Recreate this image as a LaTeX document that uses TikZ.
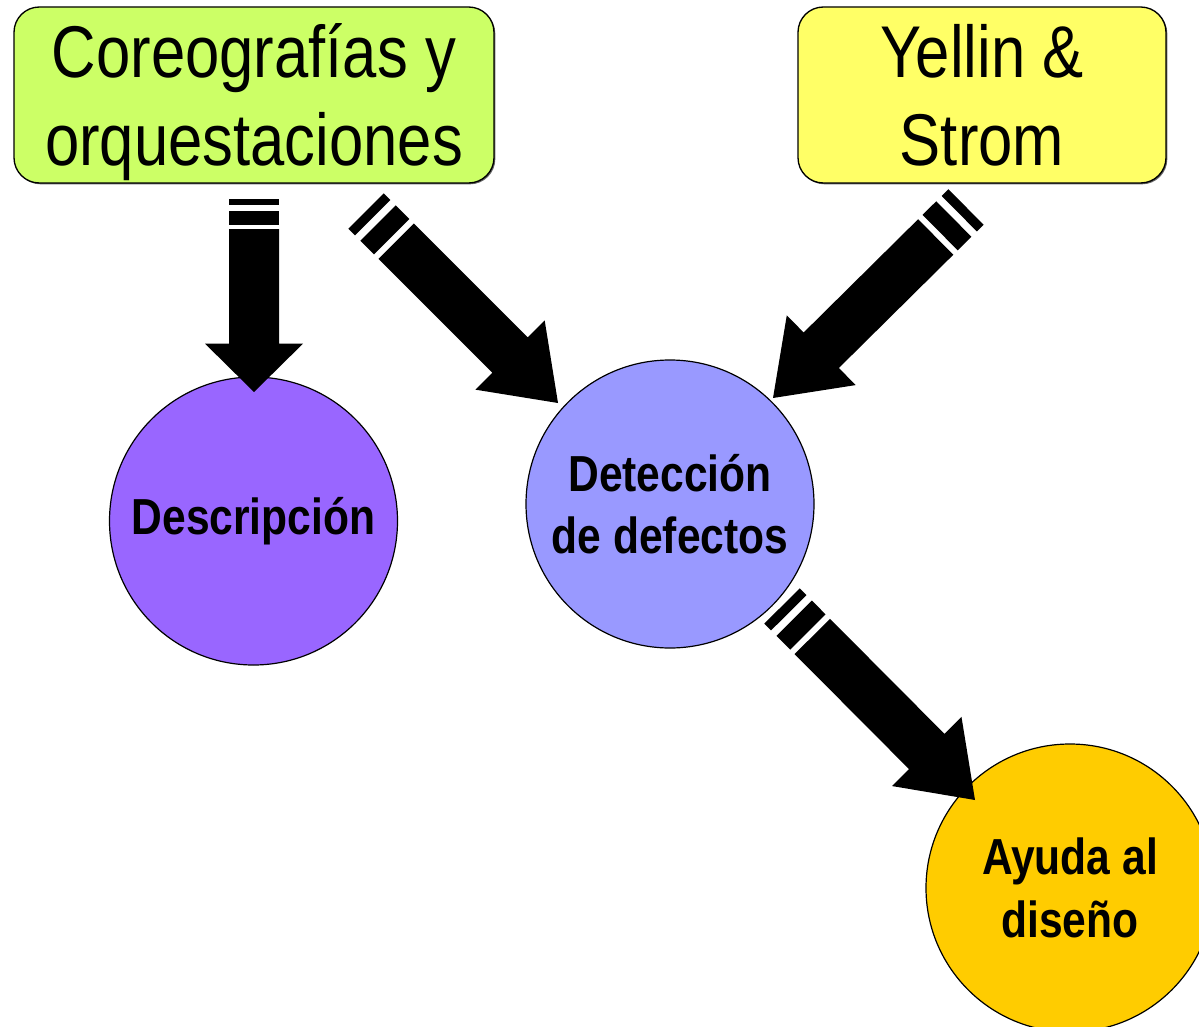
\documentclass[tikz,border=0pt]{standalone}
\usepackage{fontspec}
\setmainfont{Liberation Sans}[FakeStretch=0.84]
\usetikzlibrary{calc,shadows}

\definecolor{boxgreen}{HTML}{CCFF66}
\definecolor{boxyellow}{HTML}{FFFF66}
\definecolor{descviolet}{HTML}{9966FF}
\definecolor{detecblue}{HTML}{9999FF}
\definecolor{ayudaorange}{HTML}{FFCC00}

\tikzset{
  topbox/.style={draw=black,line width=1pt,rounded corners=19pt,minimum width=#1,minimum height=132pt,
    align=center,inner sep=0pt,font=\fontsize{55}{66}\selectfont,text height=106.5pt,text depth=0pt,
    drop shadow={shadow xshift=1pt,shadow yshift=-1pt,fill=black,opacity=0.6}},
  topic/.style={circle,draw=black,line width=0.9pt,minimum size=216pt,inner sep=0pt,
    align=center,font=\bfseries\fontsize{38}{47}\selectfont},
  pics/striparrow/.style={code={
    \fill (0,-18.75pt) rectangle (0.035*#1,18.75pt);
    \fill (0.063*#1,-18.75pt) rectangle (0.134*#1,18.75pt);
    \fill (0.157*#1,-18.75pt) -- (0.75*#1,-18.75pt) -- (0.75*#1,-36.75pt) -- (#1,0pt)
      -- (0.75*#1,36.75pt) -- (0.75*#1,18.75pt) -- (0.157*#1,18.75pt) -- cycle;
  }}
}

% striped block arrow from #1 to #2
\newcommand{\striparrow}[2]{%
  \path let \p1=($(#2)-(#1)$), \n1={atan2(\y1,\x1)}, \n2={veclen(\x1,\y1)} in
    \pgfextra{\xdef\arrang{\n1}\xdef\arrlen{\n2}};
  \path (#1) pic[rotate={-(\arrang)}] {striparrow=\arrlen};
}

\begin{document}
\begin{tikzpicture}[x=0.75pt,y=0.75pt,yscale=-1]
\useasboundingbox (0,0) rectangle (1199,1027);

%Shape: Rounded Rect
\node[topbox=360pt,fill=boxgreen] (coreo) at (254,95) {Coreografías y\\orquestaciones};
%Shape: Rounded Rect
\node[topbox=276pt,fill=boxyellow] (yellin) at (982,95) {Yellin \&\\Strom};

%Shape: Circle
\node[topic,fill=descviolet] (desc) at (253.5,521) {Descripción};
%Shape: Circle
\node[topic,fill=detecblue] (detec) at (670,504) {Detección\\de defectos};
%Shape: Circle
\node[topic,fill=ayudaorange] (ayuda) at (1070,888) {Ayuda al\\diseño};

%Striped Arrows
\coordinate (coreotail) at ($(coreo.south)+(0,15)$);
\coordinate (desctip) at (254,392);
\coordinate (coreotail2) at (366,211);
\coordinate (detectip) at (558,403);
\coordinate (yellintail) at (966,207);
\coordinate (detectip2) at (773,398);
\coordinate (detectail) at (782,606);
\coordinate (ayudatip) at (975,800);

\striparrow{coreotail}{desctip}
\striparrow{coreotail2}{detectip}
\striparrow{yellintail}{detectip2}
\striparrow{detectail}{ayudatip}

\end{tikzpicture}
\end{document}
